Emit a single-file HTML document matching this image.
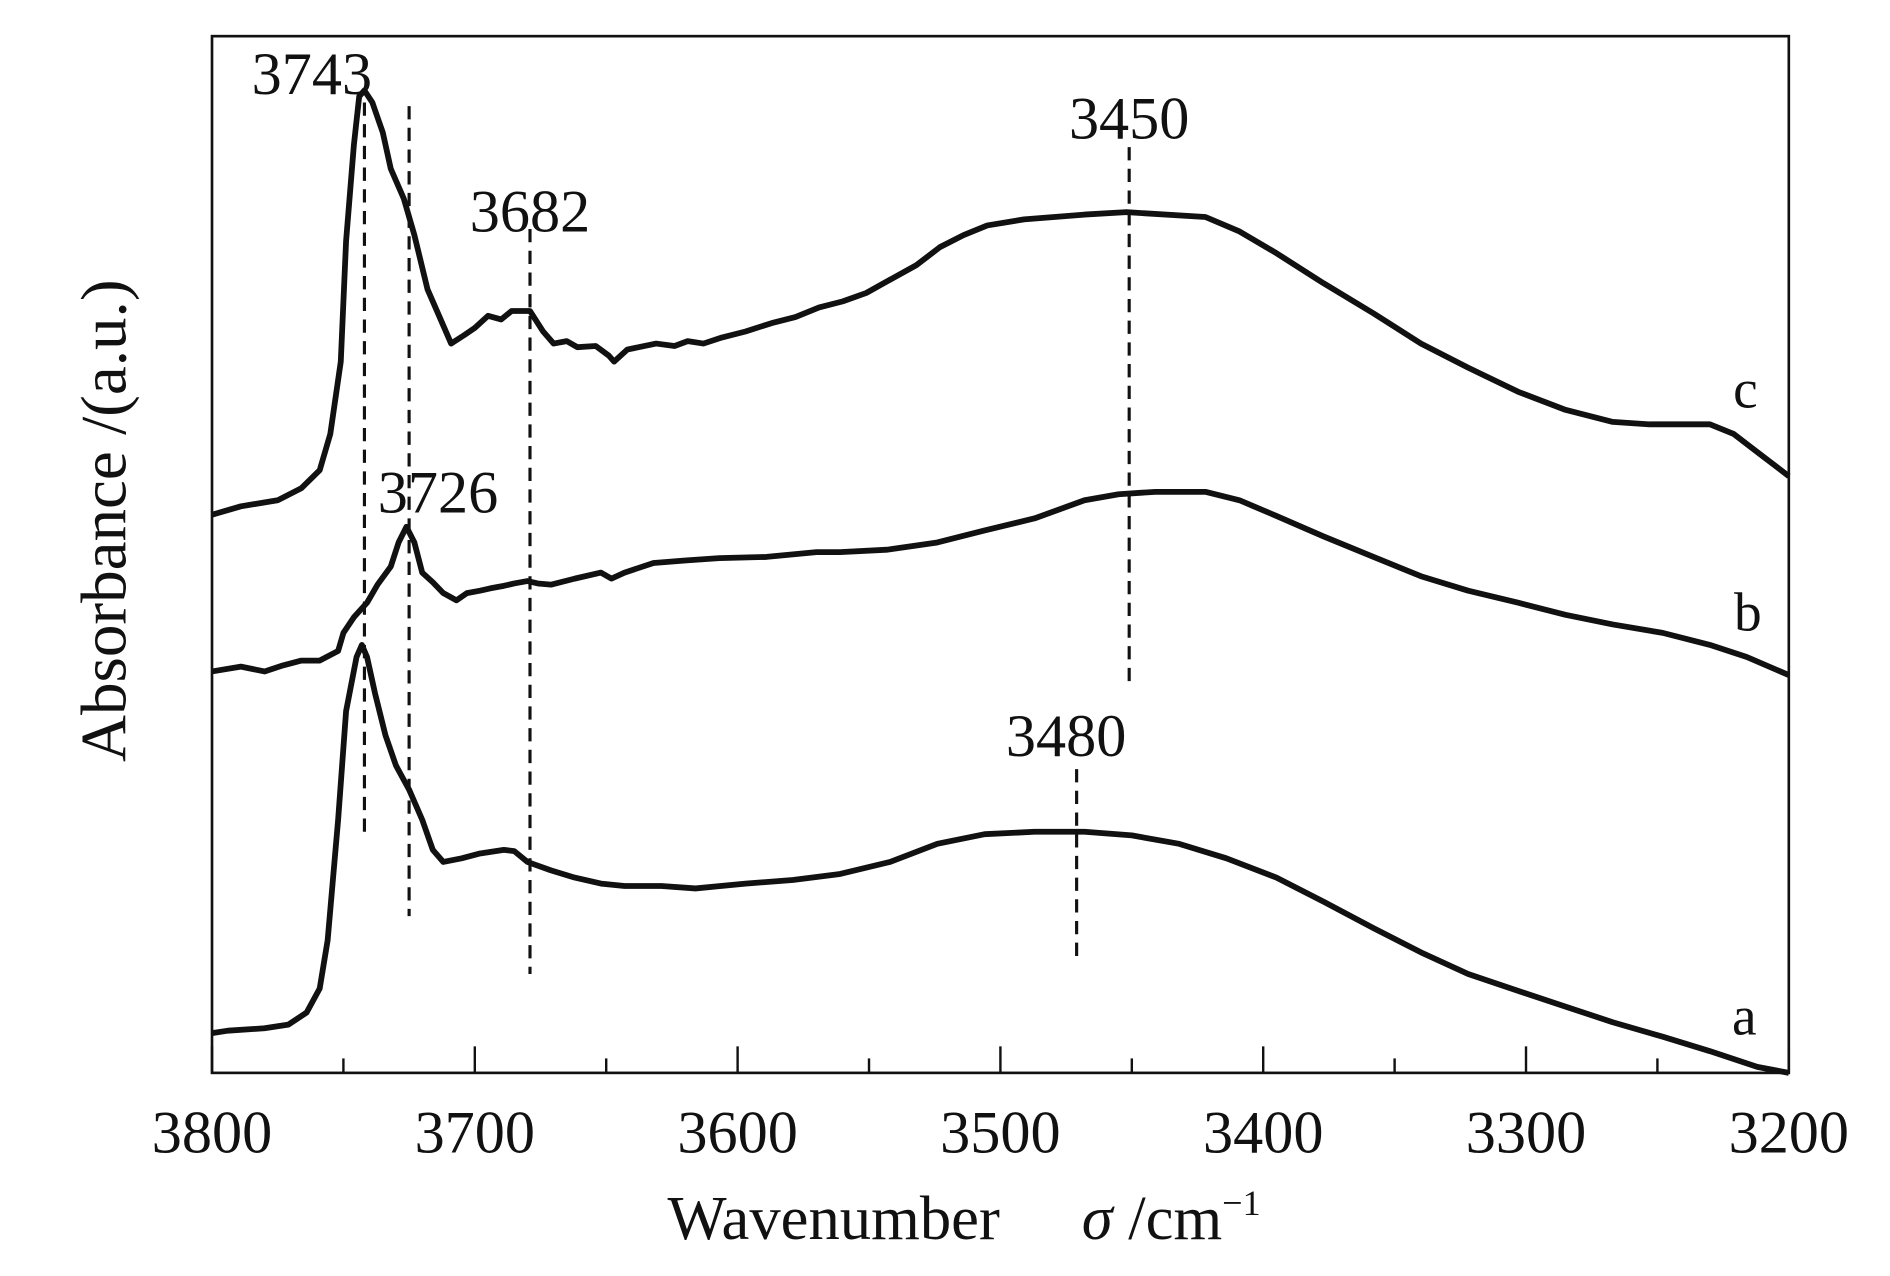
<!DOCTYPE html>
<html><head><meta charset="utf-8"><style>
html,body{margin:0;padding:0;background:#fff;}
svg{display:block;}
text{font-family:"Liberation Serif",serif;fill:#111;}
</style></head><body>
<svg id="chart" width="1890" height="1276" viewBox="0 0 1569 1058.5" preserveAspectRatio="none" xmlns="http://www.w3.org/2000/svg">
<rect x="176" y="30" width="1309" height="860" fill="none" stroke="#111" stroke-width="2.2"/>
<g id="ticks"></g>
<g id="series"></g>
<g id="guides"></g>
<text x="830" y="1028" font-size="52" text-anchor="end">Wavenumber</text>
<text x="898" y="1028" font-size="52"><tspan font-style="italic">σ</tspan> /cm<tspan font-size="30" dy="-20">−1</tspan></text>
<text x="0" y="0" font-size="54" text-anchor="middle" transform="translate(104,432) rotate(-90)">Absorbance /(a.u.)</text>
<text x="1449" y="338" font-size="46" text-anchor="middle">c</text>
<text x="1451" y="523" font-size="46" text-anchor="middle">b</text>
<text x="1448" y="858" font-size="46" text-anchor="middle">a</text>
</svg>
<script>
const NS="http://www.w3.org/2000/svg";
const xTicks=[3800,3700,3600,3500,3400,3300,3200];
const xMinor=[3750,3650,3550,3450,3350,3250];
const wnC=[3800,3789,3775,3766,3759,3755,3751,3749,3746,3744,3742,3739,3735,3732,3727,3723,3718,3713,3709,3704,3700,3695,3690,3686,3679,3674,3670,3665,3661,3654,3649,3647,3642,3631,3624,3619,3613,3606,3597,3587,3578,3569,3560,3551,3542,3532,3523,3514,3505,3491,3468,3452,3422,3409,3395,3377,3358,3340,3322,3303,3285,3267,3253,3230,3221,3212,3200];
const absC=[463,470,475,485,500,530,590,690,770,810,815,805,780,750,725,695,650,625,605,612,618,628,625,632,632,615,605,607,602,603,595,590,600,605,603,607,605,610,615,622,627,635,640,647,658,670,685,695,703,708,712,714,710,698,680,655,630,605,585,565,550,540,538,538,530,515,495];
const wnB=[3800,3789,3780,3773,3766,3759,3752,3750,3746,3741,3737,3732,3729,3726,3723,3720,3716,3712,3707,3703,3698,3694,3689,3685,3680,3676,3671,3662,3652,3648,3643,3632,3620,3607,3589,3570,3561,3543,3524,3506,3487,3468,3455,3441,3422,3409,3395,3377,3358,3340,3322,3303,3285,3267,3248,3230,3216,3200];
const absB=[333,337,333,338,342,342,350,365,378,390,405,420,440,453,440,415,407,398,392,398,400,402,404,406,408,406,405,410,415,410,415,423,425,427,428,432,432,434,440,450,460,475,480,482,482,475,462,445,428,412,400,390,380,372,365,355,345,330];
const wnA=[3800,3794,3780,3771,3764,3759,3756,3752,3749,3745,3743,3741,3738,3734,3730,3725,3720,3716,3712,3705,3698,3689,3685,3680,3671,3662,3652,3643,3629,3616,3597,3579,3561,3542,3524,3506,3487,3468,3450,3432,3414,3395,3377,3358,3340,3322,3303,3285,3267,3248,3230,3212,3200];
const absA=[33,35,37,40,50,70,110,210,300,345,355,345,315,280,255,235,210,185,175,178,182,185,184,175,168,162,157,155,155,153,157,160,165,175,190,198,200,200,197,190,178,162,142,120,100,82,68,55,42,30,18,5,0];
const peakWn=[3742,3725,3679,3451,3471];
const peakLabels=["3743","3726","3682","3450","3480"];
const peakTop=[805,802,700,768,252];
const peakBottom=[200,130,82,320,93];
const labelAbs=[812,465,698,775,263];
const labelWn=[3762,3714,3679,3451,3475];

const X0=176,X1=1485,Y0=890,Y1=30;
function xs(w){return X0+(3800-w)/600*(X1-X0);}
function ys(v){return Y0-v/860*(Y0-Y1);}
const tg=document.getElementById('ticks');
xTicks.forEach(t=>{
  const l=document.createElementNS(NS,'line');
  l.setAttribute('x1',xs(t));l.setAttribute('x2',xs(t));l.setAttribute('y1',Y0);l.setAttribute('y2',Y0-22);
  l.setAttribute('stroke','#111');l.setAttribute('stroke-width','2');
  
  
  tg.appendChild(l);
  const tx=document.createElementNS(NS,'text');
  tx.setAttribute('x',xs(t));tx.setAttribute('y',956);tx.setAttribute('font-size','50');tx.setAttribute('text-anchor','middle');
  tx.textContent=t;
  
  
  tg.appendChild(tx);
});
xMinor.forEach(t=>{
  const l=document.createElementNS(NS,'line');
  l.setAttribute('x1',xs(t));l.setAttribute('x2',xs(t));l.setAttribute('y1',Y0);l.setAttribute('y2',Y0-12);
  l.setAttribute('stroke','#111');l.setAttribute('stroke-width','2');
  
  
  tg.appendChild(l);
});
const sg=document.getElementById('series');
[[wnA,absA,'spectrum-a'],[wnB,absB,'spectrum-b'],[wnC,absC,'spectrum-c']].forEach(([w,v,n])=>{
  const p=document.createElementNS(NS,'path');
  p.setAttribute('d',w.map((x,i)=>(i?'L':'M')+xs(x).toFixed(1)+','+ys(v[i]).toFixed(1)).join(''));
  p.setAttribute('fill','none');p.setAttribute('stroke','#111');p.setAttribute('stroke-width','4.8');p.setAttribute('stroke-linejoin','round');
  
  
  sg.appendChild(p);
});
const gg=document.getElementById('guides');
peakWn.forEach((w,i)=>{
  const l=document.createElementNS(NS,'line');
  l.setAttribute('x1',xs(w));l.setAttribute('x2',xs(w));l.setAttribute('y1',ys(peakTop[i]));l.setAttribute('y2',ys(peakBottom[i]));
  l.setAttribute('stroke','#111');l.setAttribute('stroke-width','2.6');l.setAttribute('stroke-dasharray','11,7');
  
  
  gg.appendChild(l);
  const t=document.createElementNS(NS,'text');
  t.setAttribute('x',xs(labelWn[i]));t.setAttribute('y',ys(labelAbs[i]));t.setAttribute('font-size','50');t.setAttribute('text-anchor','middle');
  t.textContent=peakLabels[i];
  
  
  gg.appendChild(t);
});
</script>
</body></html>
